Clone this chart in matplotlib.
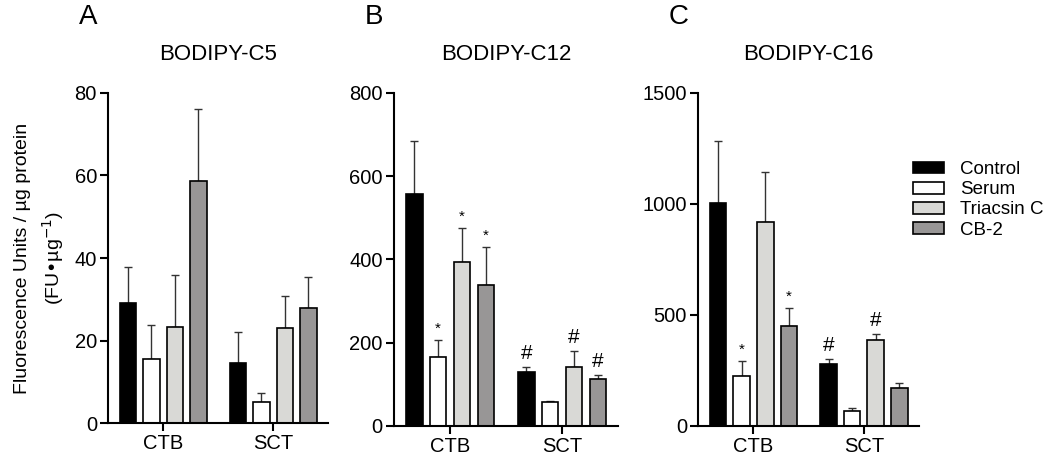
import numpy as np
import matplotlib
matplotlib.use("Agg")
import matplotlib.pyplot as plt
from matplotlib.patches import Patch

plt.rcParams["font.family"] = ["Liberation Sans", "DejaVu Sans"]

groups = ["CTB", "SCT"]
treatments = ["Control", "Serum", "Triacsin C", "CB-2"]
colors = ["#000000", "#ffffff", "#d9d9d6", "#989696"]

# means and upper error bar tops, [treatment][group]
c5_mean = [[29, 14.6], [15.5, 5.2], [23.3, 23], [58.7, 28]]
c5_err = [[37.8, 22], [23.7, 7.3], [36, 30.9], [76.2, 35.4]]
c12_mean = [[557, 130], [165, 57], [394, 142], [338, 114]]
c12_err = [[684, 141], [206, 61], [475, 181], [430, 123]]
c16_mean = [[1004, 279], [225, 68], [919, 386], [450, 171]]
c16_err = [[1285, 300], [294, 80], [1143, 416], [533, 195]]

c12_marks = [["", "#"], ["*", ""], ["*", "#"], ["*", "#"]]
c16_marks = [["", "#"], ["*", ""], ["", "#"], ["*", ""]]
no_marks = [["", ""]] * 4

panels = [
    ("A", "BODIPY-C5", c5_mean, c5_err, no_marks, 80, [0, 20, 40, 60, 80]),
    ("B", "BODIPY-C12", c12_mean, c12_err, c12_marks, 800, [0, 200, 400, 600, 800]),
    ("C", "BODIPY-C16", c16_mean, c16_err, c16_marks, 1500, [0, 500, 1000, 1500]),
]
boxes = [
    [0.1029, 0.0784, 0.2095, 0.719],
    [0.3752, 0.0719, 0.2133, 0.7255],
    [0.6648, 0.0719, 0.2105, 0.7255],
]

fig = plt.figure(figsize=(10.5, 4.59), dpi=100)
offsets = [-0.318, -0.106, 0.108, 0.322]
width = 0.15
x = np.arange(len(groups))

for (letter, title, mean, err, marks, ymax, ticks), box in zip(panels, boxes):
    ax = fig.add_axes(box)
    for i in range(4):
        xs = x + offsets[i]
        m = np.array(mean[i])
        e = np.array(err[i]) - m
        ax.bar(xs, m, width, color=colors[i], edgecolor="black", linewidth=1.2, zorder=2)
        ax.errorbar(xs, m, yerr=[np.zeros_like(e), e], fmt="none", ecolor="#333333",
                    elinewidth=1, capsize=3, capthick=1, zorder=1)
        for j in range(2):
            s = marks[i][j]
            if s:
                fs = 11 if s == "*" else 15
                ax.text(xs[j], err[i][j] + ymax * 0.012, s, ha="center", va="bottom",
                        fontsize=fs)
    ax.set_xlim(-0.5, 1.5)
    ax.set_ylim(0, ymax)
    ax.set_yticks(ticks)
    ax.set_xticks(x)
    ax.set_xticklabels(groups)
    for sp in ["top", "right"]:
        ax.spines[sp].set_visible(False)
    for sp in ["left", "bottom"]:
        ax.spines[sp].set_linewidth(1.5)
    ax.tick_params(axis="both", labelsize=14.5, width=1.5, length=6, direction="out",
                   pad=2)
    ax.set_title(title, fontsize=16, pad=24)
    pos = ax.get_position()
    fig.text(pos.x0 - 0.028, 0.962, letter, fontsize=20, ha="left", va="center")
    if letter == "A":
        ax.set_ylabel("Fluorescence Units / \u00b5g protein\n(FU\u2022\u00b5g$^{-1}$)",
                      fontsize=14, labelpad=6, linespacing=1.45)

handles = [Patch(facecolor=c, edgecolor="black", linewidth=1.2) for c in colors]
fig.legend(handles, treatments, loc="upper left", bbox_to_anchor=(0.8695, 0.649),
           frameon=False, fontsize=13.5, handlelength=1.65, handleheight=0.6,
           labelspacing=0.17, handletextpad=0.85, borderpad=0, borderaxespad=0)

fig.savefig("out.png", dpi=100)
